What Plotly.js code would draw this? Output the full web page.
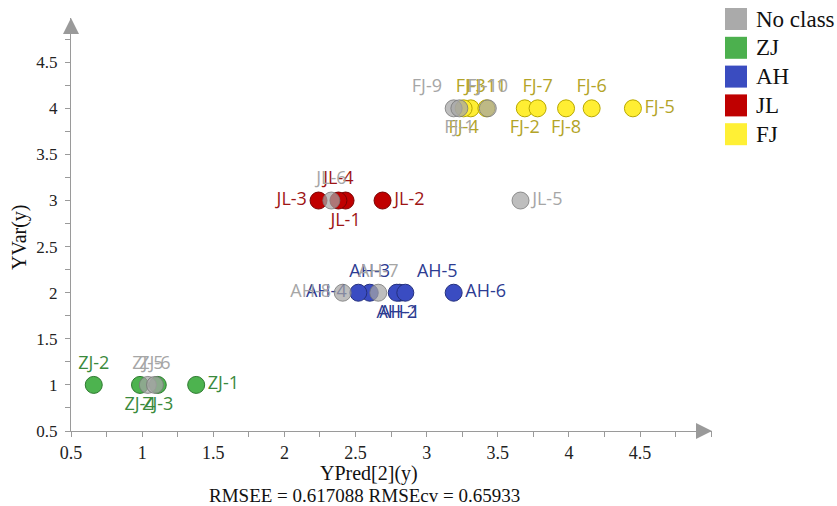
<!DOCTYPE html>
<html>
<head>
<meta charset="utf-8">
<script src="https://cdn.plot.ly/plotly-3.0.1.min.js"></script>
<style>html,body{margin:0;padding:0;background:#fff;}#chart{width:837px;height:506px;}</style>
</head>
<body>
<div id="chart"></div>
<script>
// ---- data ----
const categories = ['No class', 'ZJ', 'AH', 'JL', 'FJ'];

const noClassNames = ['ZJ-5', 'ZJ-6', 'AH-8', 'AH-7', 'JL-6', 'JL-5', 'FJ-9', 'FJ-1', 'FJ-10'];
const noClassX = [1.04, 1.09, 2.41, 2.66, 2.33, 3.66, 3.19, 3.23, 3.43];
const noClassY = [1, 1, 2, 2, 3, 3, 4, 4, 4];

const zjNames = ['ZJ-1', 'ZJ-2', 'ZJ-3', 'ZJ-4'];
const zjX = [1.38, 0.66, 1.11, 0.985];
const zjY = [1, 1, 1, 1];

const ahNames = ['AH-1', 'AH-2', 'AH-3', 'AH-4', 'AH-5', 'AH-6'];
const ahX = [2.81, 2.79, 2.60, 2.52, 2.85, 3.19];
const ahY = [2, 2, 2, 2, 2, 2];

const jlNames = ['JL-1', 'JL-2', 'JL-3', 'JL-4'];
const jlX = [2.43, 2.69, 2.24, 2.38];
const jlY = [3, 3, 3, 3];

const fjNames = ['FJ-2', 'FJ-3', 'FJ-4', 'FJ-5', 'FJ-6', 'FJ-7', 'FJ-8', 'FJ-11'];
const fjX = [3.69, 3.31, 3.26, 4.45, 4.16, 3.78, 3.98, 3.42];
const fjY = [4, 4, 4, 4, 4, 4, 4, 4];

const xTickVals = [0.5, 1, 1.5, 2, 2.5, 3, 3.5, 4, 4.5];
const yTickVals = [0.5, 1, 1.5, 2, 2.5, 3, 3.5, 4, 4.5];

const xTitle = 'YPred[2](y)';
const yTitle = 'YVar(y)';
const statsText = 'RMSEE = 0.617088 RMSEcv = 0.65933';

// ---- label placement (style) ----
const noClassPos = ['top center', 'top center', 'middle left', 'top center', 'top center', 'middle right', 'top left', 'bottom center', 'top center'];
const zjPos = ['middle right', 'top center', 'bottom center', 'bottom center'];
const ahPos = ['bottom center', 'bottom center', 'top center', 'middle left', 'top right', 'middle right'];
const jlPos = ['bottom center', 'middle right', 'middle left', 'top center'];
const fjPos = ['bottom center', 'top center', 'bottom center', 'middle right', 'top center', 'top center', 'bottom center', 'top center'];

const styles = {
  'No class': {fill: 'rgba(165,165,165,0.72)', line: 'rgba(120,120,120,0.8)', text: '#a6a6a6', legend: '#aaaaaa'},
  'ZJ': {fill: '#4db34f', line: '#2f7a31', text: '#3a8a3c', legend: '#4cb04e'},
  'AH': {fill: '#3a4cc2', line: '#24307e', text: '#2d3c92', legend: '#3a4cc0'},
  'JL': {fill: '#c00000', line: '#7a0000', text: '#9e1515', legend: '#bf0000'},
  'FJ': {fill: '#ffee33', line: '#b8a800', text: '#b3a428', legend: '#fff035'}
};

const labelFont = 'Open Sans, Noto Sans, sans-serif';
const serif = 'Liberation Serif, Times New Roman, serif';

function pointTrace(cat, xs, ys, names, pos) {
  const s = styles[cat];
  return {
    type: 'scatter', mode: 'markers+text', name: cat, showlegend: false,
    x: xs, y: ys, text: names, textposition: pos,
    textfont: {family: labelFont, size: 18, color: s.text},
    marker: {size: 17, color: s.fill, line: {color: s.line, width: 1}},
    hoverinfo: 'x+y+text', cliponaxis: false
  };
}

const traces = [
  pointTrace('ZJ', zjX, zjY, zjNames, zjPos),
  pointTrace('AH', ahX, ahY, ahNames, ahPos),
  pointTrace('JL', jlX, jlY, jlNames, jlPos),
  pointTrace('FJ', fjX, fjY, fjNames, fjPos),
  pointTrace('No class', noClassX, noClassY, noClassNames, noClassPos)
];

// ---- geometry helpers (pixel -> paper) ----
const M = {l: 71, r: 125, t: 18, b: 75};
const W = 837, H = 506;
const pw = W - M.l - M.r, ph = H - M.t - M.b;
const px = function (p) { return (p - M.l) / pw; };
const py = function (p) { return (H - M.b - p) / ph; };

// manual legend: square swatches + labels
const legendShapes = [];
const legendTexts = [];
categories.forEach(function (cat, i) {
  const cy = 19 + 28.8 * i;
  legendShapes.push({
    type: 'rect', xref: 'paper', yref: 'paper', layer: 'above',
    x0: px(725), x1: px(747), y0: py(cy + 11), y1: py(cy - 11),
    fillcolor: styles[cat].legend, line: {width: 0}
  });
  legendTexts.push({
    xref: 'paper', yref: 'paper', x: px(754), y: py(cy), xanchor: 'left', yanchor: 'middle',
    text: cat, showarrow: false, font: {family: serif, size: 23, color: '#111111'}
  });
});

const axisColor = '#9a9a9a';
const layout = {
  width: W, height: H,
  margin: {l: M.l, r: M.r, t: M.t, b: M.b, autoexpand: false},
  paper_bgcolor: '#ffffff', plot_bgcolor: '#ffffff',
  showlegend: false,
  xaxis: {
    range: [0.5, 5.006], showgrid: false, zeroline: false,
    showline: true, linecolor: axisColor, linewidth: 1,
    tickmode: 'array', tickvals: xTickVals, ticktext: xTickVals.map(String),
    ticks: 'outside', ticklen: 5, tickcolor: axisColor,
    minor: {ticks: 'outside', dtick: 0.25, tick0: 0.5, ticklen: 5, tickcolor: axisColor},
    tickfont: {family: serif, size: 18, color: '#222222'}
  },
  yaxis: {
    range: [0.5, 4.98], showgrid: false, zeroline: false,
    showline: true, linecolor: axisColor, linewidth: 1,
    tickmode: 'array', tickvals: yTickVals, ticktext: yTickVals.map(String),
    ticks: 'outside', ticklen: 5, tickcolor: axisColor, ticklabelstandoff: 4,
    minor: {ticks: 'outside', dtick: 0.25, tick0: 0.5, ticklen: 5, tickcolor: axisColor},
    tickfont: {family: serif, size: 17, color: '#222222'}
  },
  shapes: legendShapes,
  annotations: [
    {xref: 'paper', yref: 'paper', x: 1, y: 0, ax: -12, ay: 0, text: '', showarrow: true,
     arrowhead: 2, arrowsize: 1.6, arrowwidth: 2, arrowcolor: axisColor},
    {xref: 'paper', yref: 'paper', x: 0, y: 1, ax: 0, ay: 12, text: '', showarrow: true,
     arrowhead: 2, arrowsize: 1.6, arrowwidth: 2, arrowcolor: axisColor},
    {xref: 'paper', yref: 'paper', x: px(369), y: py(473), xanchor: 'center', yanchor: 'middle',
     text: xTitle, showarrow: false, font: {family: serif, size: 20, color: '#111111'}},
    {xref: 'paper', yref: 'paper', x: px(364), y: py(495), xanchor: 'center', yanchor: 'middle',
     text: statsText, showarrow: false, font: {family: serif, size: 19, color: '#111111'}},
    {xref: 'paper', yref: 'paper', x: px(19), y: py(237), xanchor: 'center', yanchor: 'middle',
     text: yTitle, textangle: -90, showarrow: false, font: {family: serif, size: 20, color: '#111111'}}
  ].concat(legendTexts)
};

Plotly.newPlot('chart', traces, layout, {displayModeBar: false, staticPlot: true});
</script>
</body>
</html>
